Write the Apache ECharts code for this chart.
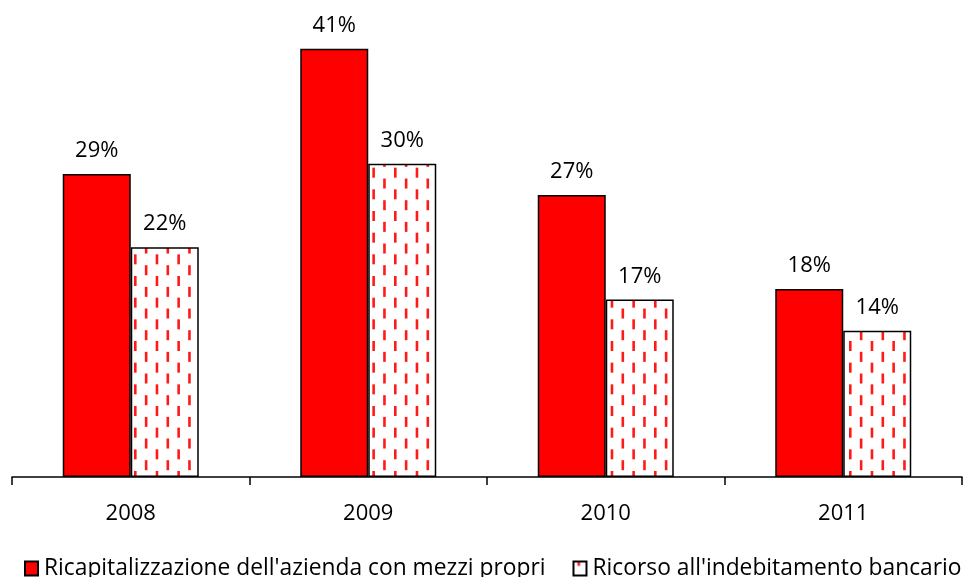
<!DOCTYPE html>
<html>
<head>
<meta charset="utf-8">
<script src="https://cdn.jsdelivr.net/npm/echarts@6/dist/echarts.min.js"></script>
<style>
html,body{margin:0;padding:0;background:#fff;}
#chart{width:969px;height:577px;}
</style>
</head>
<body>
<div id="chart"></div>
<script>
// Anni e quote percentuali
const categories = ['2008', '2009', '2010', '2011'];
const ricapitalizzazione = [29, 41, 27, 18];
const indebitamento = [22, 30, 17, 14];
const seriesNames = ["Ricapitalizzazione dell'azienda con mezzi propri", "Ricorso all'indebitamento bancario"];

// Trama a trattini rossi verticali, colonne sfalsate di mezzo passo
function dashPattern() {
  const size = 65;            // 6 colonne e 3 periodi verticali per piastrella
  const stepX = size / 6;
  const stepY = size / 3;
  const dashLen = 10, dashW = 2.6;
  const c = document.createElement('canvas');
  c.width = size; c.height = size;
  const g = c.getContext('2d');
  g.fillStyle = '#fff';
  g.fillRect(0, 0, size, size);
  g.fillStyle = '#ff1a1a';
  for (let k = 0; k < 6; k++) {
    const x = 4 + k * stepX;
    const phase = (k % 2 === 0) ? 16 : 5.2;
    for (let j = -1; j < 4; j++) {
      const y = phase + j * stepY;
      g.fillRect(x, y, dashW, dashLen);
    }
  }
  return c;
}

const font = "'Open Sans', 'Noto Sans', sans-serif";
const chart = echarts.init(document.getElementById('chart'));
chart.setOption({
  animation: false,
  grid: { left: 12, right: 7, top: 7, bottom: 100 },
  xAxis: {
    type: 'category',
    data: categories,
    axisLine: { lineStyle: { color: '#000', width: 1.5 } },
    axisTick: { show: true, length: 8, lineStyle: { color: '#000', width: 1.5 } },
    axisLabel: { color: '#000', fontSize: 22, fontFamily: font, margin: 26 }
  },
  yAxis: { type: 'value', min: 0, max: 45, show: false, splitLine: { show: false } },
  legend: {
    left: 24, top: 557, padding: 0,
    icon: 'rect',
    itemWidth: 13, itemHeight: 14, itemGap: 27,
    textStyle: { color: '#000', fontSize: 22.8, fontFamily: font, lineHeight: 22, padding: [0, 0, 0, 1] },
    data: seriesNames
  },
  series: [
    {
      name: seriesNames[0], type: 'bar', data: ricapitalizzazione,
      barWidth: 68, barGap: '0%',
      itemStyle: { color: '#ff0000', borderColor: '#000', borderWidth: 1.5 },
      label: { show: true, position: 'top', distance: 12, formatter: '{c}%', color: '#000', fontSize: 22, fontFamily: font }
    },
    {
      name: seriesNames[1], type: 'bar', data: indebitamento,
      barWidth: 68, barGap: '0%',
      itemStyle: { color: { image: dashPattern(), repeat: 'repeat' }, borderColor: '#000', borderWidth: 1.5 },
      label: { show: true, position: 'top', distance: 12, formatter: '{c}%', color: '#000', fontSize: 22, fontFamily: font }
    }
  ]
});
</script>
</body>
</html>
